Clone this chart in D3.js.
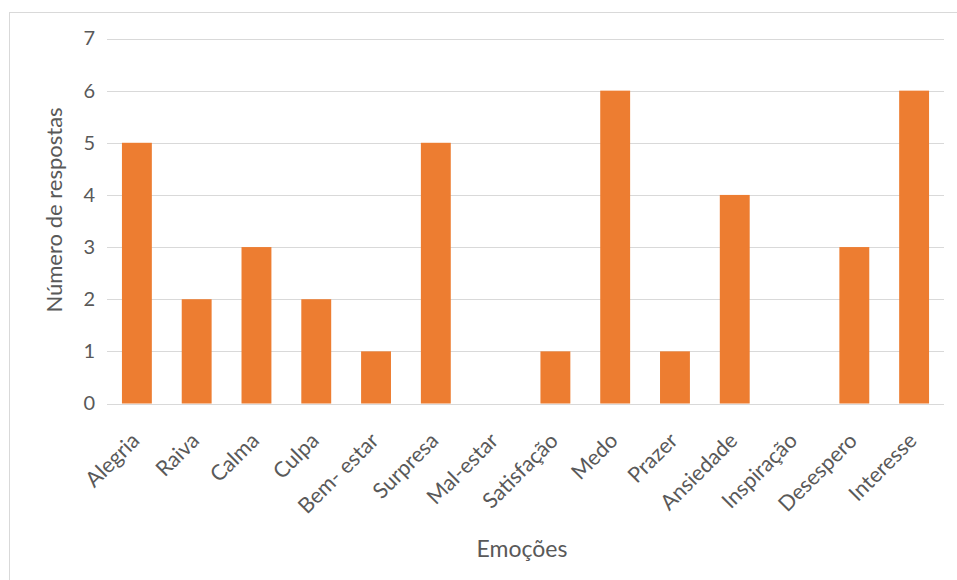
<!DOCTYPE html>
<html><head><meta charset="utf-8">
<script src="https://cdn.jsdelivr.net/npm/d3@7"></script>
<style>body{margin:0;background:#fff;} svg{display:block;font-family:Lato,sans-serif;}</style>
</head><body><svg id="c" width="957" height="580"></svg>
<script>
const categories = ["Alegria","Raiva","Calma","Culpa","Bem- estar","Surpresa","Mal-estar","Satisfação","Medo","Prazer","Ansiedade","Inspiração","Desespero","Interesse"];
const values = [5,2,3,2,1,5,0,1,6,1,4,0,3,6];
const yTicks = [0,1,2,3,4,5,6,7];
const yTitle = "Número de respostas";
const xTitle = "Emoções";

const svg = d3.select("#c");
svg.append("rect").attr("x",9.5).attr("y",12.5).attr("width",1000).attr("height",1000)
  .attr("fill","#fff").attr("stroke","#d9d9d9");

const x = d3.scaleBand().domain(categories).range([107,944]).paddingInner(0.5).paddingOuter(0.25);
const y = d3.scaleLinear().domain([0,7]).range([403.5,38.5]);

svg.append("g").selectAll("line").data(yTicks).join("line")
  .attr("x1",107).attr("x2",944)
  .attr("y1",d=>Math.round(y(d))+0.5).attr("y2",d=>Math.round(y(d))+0.5)
  .attr("stroke","#d9d9d9").attr("stroke-width",1);

const yAxis = d3.axisLeft(y).tickValues(yTicks).tickFormat(d3.format("d")).tickSize(0).tickPadding(0);
const ya = svg.append("g").attr("transform","translate(95,0)").call(yAxis);
ya.select(".domain").remove();
ya.selectAll("text").attr("fill","#595959").attr("font-size",20).attr("font-family","Lato");

svg.selectAll("rect.bar").data(values).join("rect").attr("class","bar")
  .attr("x",(d,i)=>x(categories[i])).attr("width",x.bandwidth())
  .attr("y",d=>y(d)).attr("height",d=>y(0)-y(d))
  .attr("fill","#ED7D31");

const xAxis = d3.axisBottom(x).tickSize(0).tickPadding(0);
const xa = svg.append("g").attr("transform","translate(0,403)").call(xAxis);
xa.select(".domain").remove();
xa.selectAll("text").attr("fill","#595959").attr("font-size",21.5).attr("font-family","Lato")
  .attr("text-anchor","end").attr("dy",null).attr("y",0)
  .attr("transform","translate(4,39) rotate(-45)");

svg.append("text").attr("transform","translate(62,210) rotate(-90)").attr("text-anchor","middle")
  .attr("fill","#595959").attr("font-size",22).attr("font-family","Lato").text(yTitle);
svg.append("text").attr("x",522).attr("y",557).attr("text-anchor","middle")
  .attr("fill","#595959").attr("font-size",23).attr("font-family","Lato").text(xTitle);
</script></body></html>
